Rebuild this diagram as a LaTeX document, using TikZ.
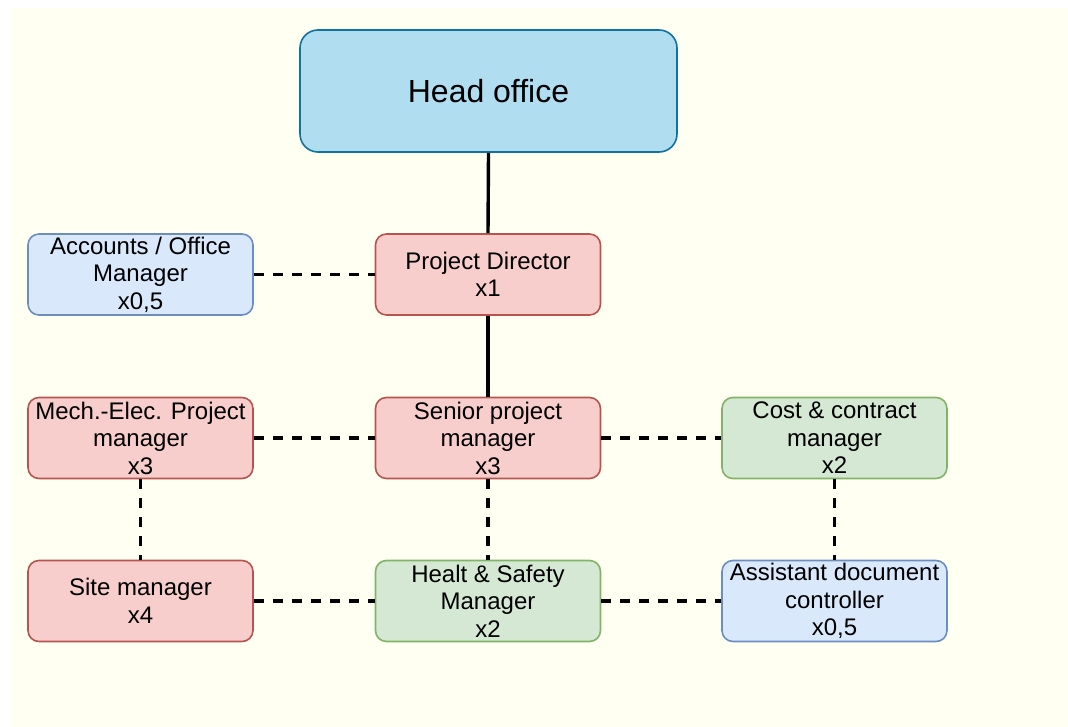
\documentclass[tikz,border=0pt]{standalone}
\usepackage{fontspec}
\setmainfont{Liberation Sans}
\begin{document}
\definecolor{paper}{HTML}{FFFFF2}
\definecolor{blueFill}{HTML}{B1DDF0}
\definecolor{blueLine}{HTML}{10739E}
\definecolor{redFill}{HTML}{F8CECC}
\definecolor{redLine}{HTML}{B85450}
\definecolor{greenFill}{HTML}{D5E8D4}
\definecolor{greenLine}{HTML}{82B366}
\definecolor{paleFill}{HTML}{DAE8FC}
\definecolor{paleLine}{HTML}{6C8EBF}
\begin{tikzpicture}[x=1pt,y=-1pt,
  role/.style={draw, line width=1.6pt, rounded corners=11pt, minimum width=225pt,
    minimum height=81pt, inner sep=0pt, align=center,
    font=\fontsize{24}{27.5}\selectfont},
  redbox/.style={role, fill=redFill, draw=redLine},
  greenbox/.style={role, fill=greenFill, draw=greenLine},
  palebox/.style={role, fill=paleFill, draw=paleLine},
  solidlink/.style={line width=3.4pt},
  dashlink/.style={line width=3.4pt, dash pattern=on 10pt off 9pt}]
  % page and backdrop
  \useasboundingbox (0,0) rectangle (1068,727);
  \fill[white] (0,0) rectangle (1068,727);
  \fill[paper] (9,8) rectangle (1068,727);

  % boxes
  \node[draw=blueLine, fill=blueFill, line width=1.6pt, rounded corners=18pt,
    minimum width=377pt, minimum height=122pt, inner sep=0pt,
    font=\fontsize{32}{36}\selectfont] (head) at (488.5,91) {Head office};
  \node[palebox] (acc) at (140.5,274.5) {Accounts / Office\\Manager\\x0,5};
  \node[redbox] (pd) at (488,274.5) {Project Director\\x1};
  \node[redbox] (mech) at (140.5,438) {Mech.-Elec. Project\\manager\\x3};
  \node[redbox] (spm) at (488,438) {Senior project\\manager\\x3};
  \node[greenbox] (cost) at (834.5,438) {Cost \& contract\\manager\\x2};
  \node[redbox] (site) at (140.5,601) {Site manager\\x4};
  \node[greenbox] (hs) at (488,601) {Healt \& Safety\\Manager\\x2};
  \node[palebox] (adc) at (834.5,601) {Assistant document\\controller\\x0,5};

  % reporting lines
  \draw[solidlink] (head.south) -- (pd.north);
  \draw[solidlink] (pd.south) -- (spm.north);

  % dashed links
  \draw[dashlink] (acc.east) -- (pd.west);
  \draw[dashlink] (mech.east) -- (spm.west);
  \draw[dashlink] (spm.east) -- (cost.west);
  \draw[dashlink] (site.east) -- (hs.west);
  \draw[dashlink] (hs.east) -- (adc.west);
  \draw[dashlink] (mech.south) -- (site.north);
  \draw[dashlink] (spm.south) -- (hs.north);
  \draw[dashlink] (cost.south) -- (adc.north);
\end{tikzpicture}
\end{document}
